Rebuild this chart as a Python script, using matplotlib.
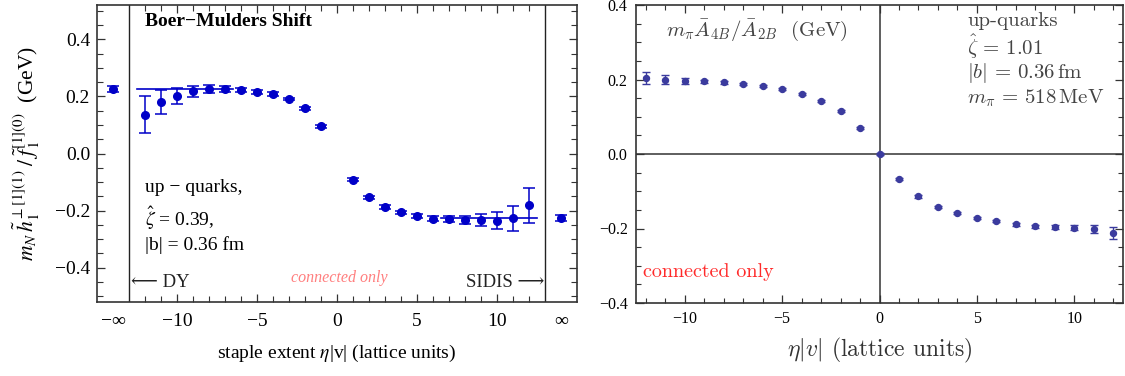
import matplotlib
matplotlib.use("Agg")
import matplotlib.pyplot as plt
from matplotlib.ticker import MultipleLocator, FixedLocator

# --- left panel: Boer-Mulders shift ---
bm_x = [-14, -12, -11, -10, -9, -8, -7, -6, -5, -4, -3, -2, -1,
        1, 2, 3, 4, 5, 6, 7, 8, 9, 10, 11, 12, 14]
bm_y = [0.226, 0.136, 0.180, 0.201, 0.218, 0.226, 0.226, 0.222, 0.216, 0.208, 0.191, 0.158, 0.095,
        -0.092, -0.154, -0.187, -0.206, -0.220, -0.228, -0.230, -0.233, -0.234, -0.236, -0.227, -0.182, -0.226]
bm_err = [0.010, 0.065, 0.043, 0.028, 0.020, 0.015, 0.010, 0.008, 0.006, 0.006, 0.005, 0.005, 0.005,
          0.005, 0.005, 0.006, 0.006, 0.007, 0.008, 0.010, 0.014, 0.021, 0.030, 0.043, 0.060, 0.010]
fit_dy_x = [-12.5, -6.5]
fit_dy_y = [0.225, 0.225]
fit_sidis_x = [6.5, 12.5]
fit_sidis_y = [-0.225, -0.225]

# --- right panel: pion ---
pi_x = list(range(-12, 13))
pi_y = [0.204, 0.200, 0.196, 0.195, 0.193, 0.188, 0.182, 0.174, 0.161, 0.143, 0.115, 0.069, 0.0,
        -0.067, -0.114, -0.142, -0.159, -0.172, -0.180, -0.188, -0.194, -0.196, -0.198, -0.201, -0.211]
pi_err = [0.017, 0.012, 0.008, 0.005, 0.004, 0.003, 0.003, 0.003, 0.003, 0.003, 0.003, 0.003, 0.002,
          0.003, 0.003, 0.003, 0.003, 0.003, 0.003, 0.004, 0.004, 0.005, 0.007, 0.011, 0.016]

xtick_left = [-14, -10, -5, 0, 5, 10, 14]
xtick_left_lab = ["\u2212\u221e", "\u221210", "\u22125", "0", "5", "10", "\u221e"]
ytick_lab = ["\u22120.4", "\u22120.2", "0.0", "0.2", "0.4"]

serif = ["Liberation Serif", "DejaVu Serif"]
plt.rcParams["font.family"] = serif
plt.rcParams["mathtext.fontset"] = "stix"

fig = plt.figure(figsize=(11.25, 3.76), dpi=100)
ax1 = fig.add_axes([97 / 1125, 74 / 376, 480 / 1125, 297 / 376])
ax2 = fig.add_axes([636 / 1125, 73 / 376, 487 / 1125, 298 / 376])

blue = "#0000c8"
ax1.errorbar(bm_x, bm_y, yerr=bm_err, fmt="o", ms=5.5, color=blue, ecolor=blue,
             elinewidth=1.1, capsize=4, capthick=1.1, zorder=3)
ax1.plot(fit_dy_x, fit_dy_y, color=blue, lw=1.2)
ax1.plot(fit_sidis_x, fit_sidis_y, color=blue, lw=1.2)
ax1.axvline(-13, color="#222222", lw=1.0)
ax1.axvline(13, color="#222222", lw=1.0)
ax1.set_xlim(-15, 15)
ax1.set_ylim(-0.52, 0.52)

ax1.set_xticks(xtick_left)
ax1.set_xticklabels(xtick_left_lab, family=serif + ["DejaVu Sans"])
ax1.xaxis.set_minor_locator(FixedLocator(list(range(-12, 13))))
ax1.set_yticks([-0.4, -0.2, 0.0, 0.2, 0.4])
ax1.set_yticklabels(ytick_lab)
ax1.yaxis.set_minor_locator(MultipleLocator(0.05))
ax1.tick_params(which="both", direction="in", top=True, right=True, labelsize=14,
                color="#333333")
ax1.tick_params(which="major", length=6, width=0.9, pad=8)
ax1.tick_params(which="minor", length=4, width=0.8)
ax1.tick_params(axis="y", which="major", pad=5)
for t in (ax1.xaxis.get_major_ticks()[0], ax1.xaxis.get_major_ticks()[-1]):
    t.tick1line.set_visible(False)
    t.tick2line.set_visible(False)
for s in ax1.spines.values():
    s.set_color("#333333")
    s.set_linewidth(1.2)

ax1.set_xlabel(r"staple extent $\eta$|v| (lattice units)", fontsize=14, labelpad=9)
ax1.set_ylabel(r"$m_N\,\tilde{h}_1^{\perp[1](1)}\;/\;\tilde{f}_1^{[1](0)}$  (GeV)", fontsize=15.5, labelpad=9)

ax1.text(0.101, 0.943, "Boer\u2212Mulders Shift", transform=ax1.transAxes, fontsize=14,
         fontweight="bold", va="center", ha="left")
ax1.text(0.101, 0.384, "up \u2212 quarks,", transform=ax1.transAxes, fontsize=14, va="center")
ax1.text(0.101, 0.283, r"$\hat{\zeta}$ = 0.39,", transform=ax1.transAxes, fontsize=14, va="center")
ax1.text(0.101, 0.192, "|b| = 0.36 fm", transform=ax1.transAxes, fontsize=14, va="center")
ax1.text(0.070, 0.064, "\u27f5 DY", transform=ax1.transAxes, fontsize=13.5, va="center",
         family=serif + ["DejaVu Sans"], color="#222222")
ax1.text(0.933, 0.064, "SIDIS \u27f6", transform=ax1.transAxes, fontsize=13.5, va="center", ha="right",
         family=serif + ["DejaVu Sans"], color="#222222")
ax1.text(0.504, 0.081, "connected only", transform=ax1.transAxes, fontsize=11.5, va="center",
         ha="center", style="italic", color="#ff7f7f")

# --- right panel ---
pcol = "#3b3b9e"
ax2.errorbar(pi_x, pi_y, yerr=pi_err, fmt="o", ms=4.3, color=pcol, ecolor=pcol,
             elinewidth=1.0, capsize=3, capthick=1.0, zorder=3)
ax2.axhline(0, color="#333333", lw=1.1, zorder=1)
ax2.axvline(0, color="#333333", lw=1.1, zorder=1)
ax2.set_xlim(-12.5, 12.5)
ax2.set_ylim(-0.4, 0.4)
ax2.set_xticks([-10, -5, 0, 5, 10])
ax2.set_xticklabels(["\u221210", "\u22125", "0", "5", "10"])
ax2.xaxis.set_minor_locator(MultipleLocator(1))
ax2.set_yticks([-0.4, -0.2, 0.0, 0.2, 0.4])
ax2.set_yticklabels(ytick_lab)
ax2.yaxis.set_minor_locator(MultipleLocator(0.05))
ax2.tick_params(which="both", direction="in", top=True, right=True, labelsize=11.5,
                color="#333333")
ax2.tick_params(which="major", length=6, width=0.9, pad=6)
ax2.tick_params(which="minor", length=3.5, width=0.8)
for s in ax2.spines.values():
    s.set_color("#333333")
    s.set_linewidth(1.2)

ax2.set_xlabel(r"$\eta|v|$ (lattice units)", fontsize=17, family="cmr10",
               math_fontfamily="cm", color="#333333", labelpad=6)
ax2.text(0.0616, 0.916, r"$m_\pi\bar{A}_{4B}/\bar{A}_{2B}$  (GeV)", transform=ax2.transAxes,
         fontsize=15, family="cmr10", math_fontfamily="cm", color="#444444", va="center")
info = ["up-quarks", r"$\hat{\zeta}\,=\,1.01$", r"$|b|\,=\,0.36\,\mathrm{fm}$",
        r"$m_\pi\,=\,518\,\mathrm{MeV}$"]
for line, yy in zip(info, [0.947, 0.860, 0.772, 0.686]):
    ax2.text(0.68, yy, line, transform=ax2.transAxes, fontsize=15, family="cmr10",
             math_fontfamily="cm", color="#444444", va="center")
ax2.text(0.014, 0.104, "connected only", transform=ax2.transAxes, fontsize=14.5, family="cmr10",
         color="#ff2a2a", va="center")

fig.savefig("out.png", dpi=100)
